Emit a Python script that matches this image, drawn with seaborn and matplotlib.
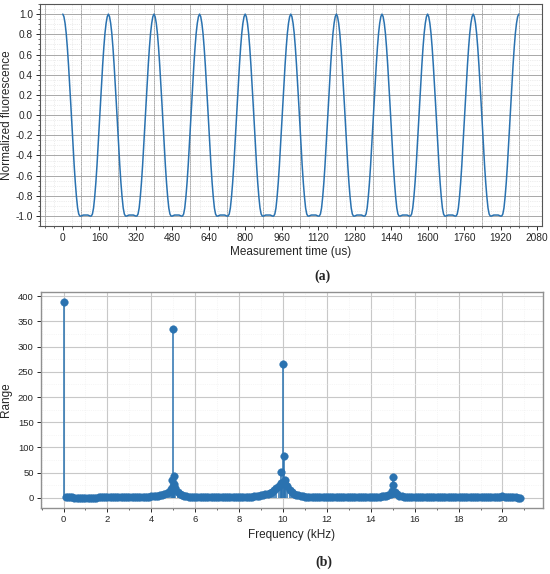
import numpy as np
import pandas as pd
import matplotlib
matplotlib.use("Agg")
import matplotlib.pyplot as plt
import seaborn as sns
from matplotlib.ticker import MultipleLocator, FormatStrFormatter

# (a) one half period of the fluorescence wave (us offset from a peak)
half_t = [0, 5, 10, 15, 20, 25, 30, 35, 40, 45, 50, 55, 60, 65, 70, 75, 80, 85, 90, 95, 100]
half_y = [1.0, 0.975, 0.91, 0.81, 0.67, 0.50, 0.31, 0.11, -0.10, -0.30, -0.50, -0.67,
          -0.81, -0.92, -0.98, -1.0, -1.0, -0.995, -0.99, -0.99, -0.99]
period_starts = [0, 200, 400, 600, 800, 1000, 1200, 1400, 1600, 1800]
time_ticks = list(range(0, 2081, 160))
fluo_ticks = [-1.0, -0.8, -0.6, -0.4, -0.2, 0.0, 0.2, 0.4, 0.6, 0.8, 1.0]

# (b) spectrum: 0.1 kHz grid from 0 to 20.8 kHz
spec_freqs = [round(i * 0.1, 1) for i in range(209)]
spec_values = [
    388,
    1.5, 1.2, 1.0, 0.9, 0.8, 0.8, 0.8, 0.8, 0.8, 0.8,
    0.8, 0.8, 0.8, 0.8, 0.8, 0.9, 0.9, 0.9, 0.9, 1.0,
    1.0, 1.0, 1.0, 1.1, 1.1, 1.1, 1.2, 1.2, 1.3, 1.4,
    1.4, 1.5, 1.6, 1.7, 1.8, 2.0, 2.2, 2.4, 2.7, 3.0,
    3.4, 3.9, 4.5, 5.3, 6.3, 7.6, 9.5, 12.5, 18.0, 335,
    20, 12, 8, 5.5, 4.0, 3.0, 2.4, 2.0, 1.7, 1.5,
    1.3, 1.2, 1.1, 1.0, 1.0, 0.9, 0.9, 0.9, 0.9, 0.9,
    0.9, 1.0, 1.0, 1.0, 1.1, 1.1, 1.2, 1.3, 1.4, 1.5,
    1.6, 1.8, 2.0, 2.2, 2.5, 2.8, 3.2, 3.7, 4.3, 5.0,
    5.9, 7.0, 8.4, 10.2, 12.5, 15.5, 19.5, 24, 30, 266,
    35, 24, 16, 11, 8, 6, 4.8, 3.9, 3.3, 2.8,
    2.5, 2.2, 2.0, 1.8, 1.7, 1.6, 1.5, 1.4, 1.3, 1.2,
    1.2, 1.1, 1.1, 1.0, 1.0, 1.0, 1.0, 1.0, 1.0, 1.0,
    1.0, 1.0, 1.1, 1.1, 1.2, 1.2, 1.3, 1.4, 1.5, 1.6,
    1.8, 2.0, 2.2, 2.5, 2.9, 3.4, 4.2, 5.5, 8.5, 42,
    12, 7, 4.5, 3.4, 2.7, 2.3, 2.0, 1.8, 1.6, 1.5,
    1.4, 1.3, 1.2, 1.2, 1.1, 1.1, 1.0, 1.0, 1.0, 1.0,
    0.9, 0.9, 0.9, 0.9, 0.9, 0.9, 0.9, 0.9, 0.9, 0.9,
    0.9, 0.9, 0.9, 0.9, 0.9, 0.9, 0.9, 0.9, 0.9, 1.0,
    1.0, 1.0, 1.0, 1.1, 1.1, 1.2, 1.3, 1.5, 1.9, 4.0,
    1.8, 1.3, 1.1, 1.0, 0.9, 0.9, 0.8, 0.8,
]
# extra bins next to the harmonics
side_freqs = [4.95, 5.05, 4.97, 5.03, 9.93, 10.03, 10.07, 9.97, 15.03, 14.97]
side_values = [36, 44, 24, 27, 51, 83, 28, 30, 25, 14]

# build full wave from the read half period
period_t = half_t + [200 - t for t in reversed(half_t[:-1])]
period_y = half_y + list(reversed(half_y[:-1]))
wave_t, wave_y = [], []
for s in period_starts:
    wave_t += [s + t for t in period_t[:-1]]
    wave_y += period_y[:-1]
wave_t.append(period_starts[-1] + 200)
wave_y.append(period_y[-1])
wave = pd.DataFrame({"t": wave_t, "y": wave_y})

spec = pd.DataFrame({"f": spec_freqs + side_freqs, "v": spec_values + side_values})

sns.set_style("white")
plt.rcParams["font.family"] = ["Liberation Sans", "DejaVu Sans"]
plt.rcParams["axes.unicode_minus"] = False

blue = "#2a72b0"
fig = plt.figure(figsize=(5.5, 5.74), dpi=100)
ax1 = fig.add_axes([0.0727, 0.606, 0.912, 0.387])
ax2 = fig.add_axes([0.074, 0.1155, 0.913, 0.375])

# ---- (a)
sns.lineplot(data=wave, x="t", y="y", ax=ax1, color=blue, linewidth=1.1)
ax1.set_xlim(-100, 2100)
ax1.set_ylim(-1.1, 1.1)
ax1.set_xticks(time_ticks)
ax1.set_yticks(fluo_ticks)
ax1.yaxis.set_major_formatter(FormatStrFormatter("%.1f"))
ax1.xaxis.set_minor_locator(MultipleLocator(40))
ax1.yaxis.set_minor_locator(MultipleLocator(0.05))
ax1.grid(axis="y", which="major", color="#a8a8a8", linewidth=0.7)
ax1.grid(which="minor", color="#dcdcdc", linewidth=0.5, linestyle=":")
for g in range(-80, 2100, 160):
    ax1.axvline(g, color="#a8a8a8", linewidth=0.7, zorder=0)
ax1.set_xlabel("Measurement time (us)", fontsize=8.5, labelpad=2)
ax1.set_ylabel("Normalized fluorescence", fontsize=8.5, labelpad=2)
ax1.tick_params(which="major", direction="out", length=3, width=0.7, labelsize=7.3,
                bottom=True, left=True, pad=2)
ax1.tick_params(which="minor", direction="out", length=1.5, width=0.5,
                bottom=True, left=True)
for sp in ax1.spines.values():
    sp.set_color("#555555")
    sp.set_linewidth(0.8)

# ---- (b)
ax2.vlines(spec["f"], 0, spec["v"], color=blue, linewidth=1.1, zorder=2)
sns.scatterplot(data=spec, x="f", y="v", ax=ax2, color=blue, s=30,
                edgecolor=blue, linewidth=0.3, zorder=3)
ax2.set_xlim(-1.04, 21.84)
ax2.set_ylim(-19.4, 407.4)
ax2.set_xticks(range(0, 21, 2))
ax2.set_yticks(range(0, 401, 50))
ax2.xaxis.set_minor_locator(MultipleLocator(1))
ax2.yaxis.set_minor_locator(MultipleLocator(25))
ax2.grid(which="major", color="#c8c8c8", linewidth=0.8)
ax2.grid(which="minor", color="#eeeeee", linewidth=0.5, linestyle=":")
ax2.set_axisbelow(True)
ax2.set_xlabel("Frequency (kHz)", fontsize=8.5, labelpad=4)
ax2.set_ylabel("Range", fontsize=8.5, labelpad=4)
ax2.tick_params(which="major", direction="out", length=3, width=0.7, labelsize=6.8,
                bottom=True, left=True, pad=2)
ax2.tick_params(which="minor", direction="out", length=1.5, width=0.5, bottom=True)
for sp in ax2.spines.values():
    sp.set_color("#909090")
    sp.set_linewidth(1.0)

fig.text(0.587, 0.518, "(a)", fontsize=10, fontweight="bold",
         family=["Liberation Serif", "DejaVu Serif"], ha="center", va="center")
fig.text(0.589, 0.0197, "(b)", fontsize=10, fontweight="bold",
         family=["Liberation Serif", "DejaVu Serif"], ha="center", va="center")

fig.savefig("out.png", dpi=100)
